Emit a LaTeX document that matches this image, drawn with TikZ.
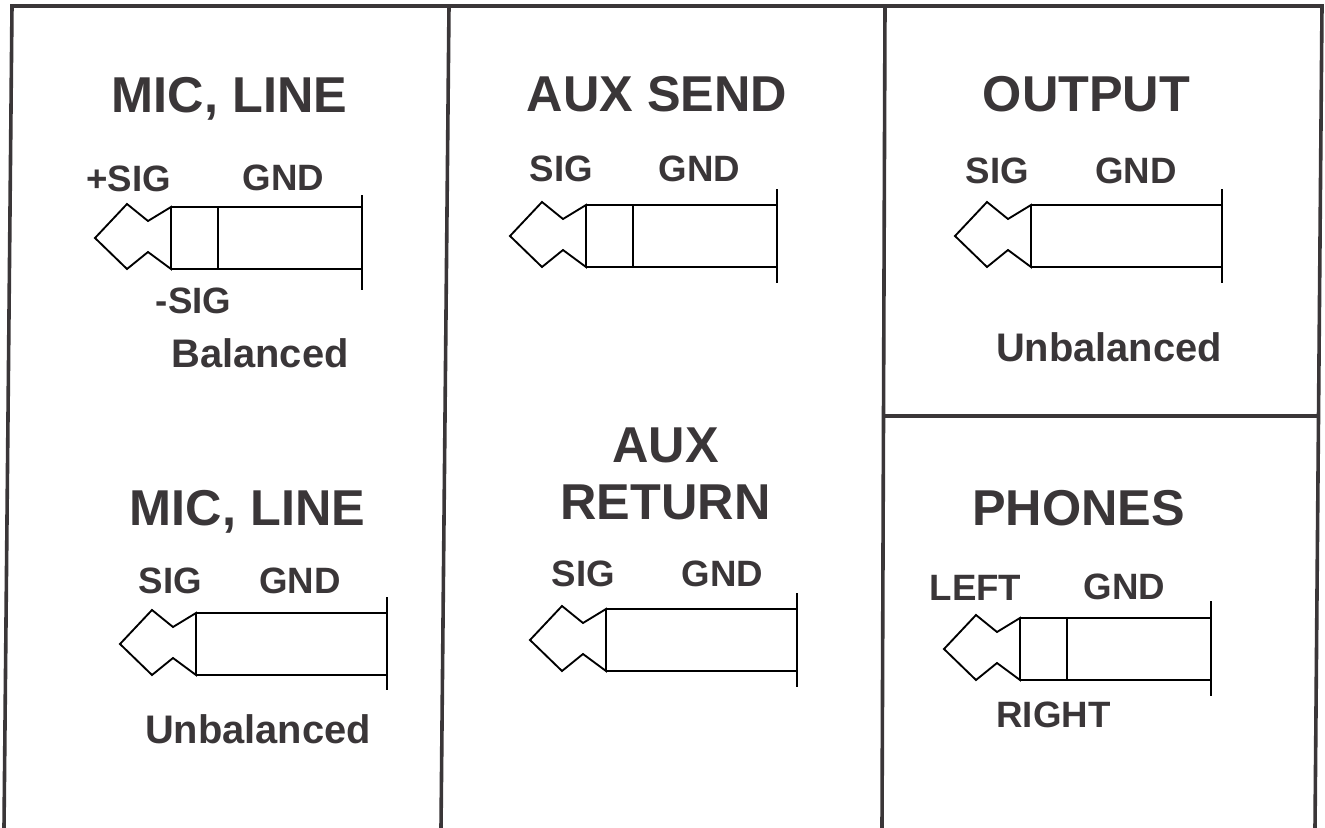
\documentclass[tikz,border=0pt]{standalone}
\usepackage{fontspec}
\setmainfont{Liberation Sans}
\definecolor{ink}{HTML}{3A3638}
\tikzset{
  x=0.75pt, y=-0.75pt,
  frameline/.style={draw=ink, line width=2.7pt},
  plugline/.style={draw=black, line width=1.4pt, line join=miter},
  title/.style={anchor=base, inner sep=0pt, text=ink, font=\bfseries\fontsize{37.8}{43}\selectfont},
  pinlabel/.style={anchor=base, inner sep=0pt, text=ink, font=\bfseries\fontsize{27.5}{32}\selectfont},
  kind/.style={anchor=base, inner sep=0pt, text=ink, font=\bfseries\fontsize{29.9}{34}\selectfont},
}
% #1,#2 tip of the plug; #3,#4 top and bottom of the end bar
\newcommand{\jackplug}[4]{%
  \begin{scope}[shift={(#1,#2)}]
    \draw[plugline] (1,0) -- (33,-34) -- (54,-17) -- (77,-31) -- (77,31) -- (54,14) -- (33,31) -- cycle;
    \draw[plugline] (77,-31) -- (268,-31);
    \draw[plugline] (77,31) -- (268,31);
    \draw[plugline] (268,#3) -- (268,#4);
  \end{scope}}
\newcommand{\plugdivider}[2]{\draw[plugline] (#1+124,#2-31) -- (#1+124,#2+31);}
\begin{document}
\begin{tikzpicture}
\useasboundingbox (0,0) rectangle (1325,828);
\coordinate (tl) at (12,6);
\coordinate (tm1) at (449,6);
\coordinate (tm2) at (885,6);
\coordinate (tr) at (1322,6);
\coordinate (bl) at (4,828);
\coordinate (bm1) at (441,828);
\coordinate (bm2) at (882,828);
\coordinate (br) at (1315,828);
\coordinate (ml) at (884,416);
\coordinate (mr) at (1319,416);
\draw[frameline] (bl) -- (tl) -- (tr) -- (br);
\draw[frameline] (tm1) -- (bm1);
\draw[frameline] (tm2) -- (bm2);
\draw[frameline] (ml) -- (mr);

\jackplug{94}{238}{-43}{52}\plugdivider{94}{238}
\jackplug{119}{644}{-47}{46}
\jackplug{509}{236}{-47}{47}
\plugdivider{509}{236}
\jackplug{529}{640}{-47}{47}
\jackplug{954}{236}{-47}{47}
\jackplug{943}{649}{-48}{47}\plugdivider{943}{649}

\node[title] (t1) at (229.5,112) {MIC, LINE};
\node[pinlabel] (a1) at (128.5,191) {+SIG};
\node[pinlabel] (a2) at (283.5,190) {GND};
\node[pinlabel] (a3) at (193.5,313) {-SIG};
\node[kind] (a4) at (260,367) {Balanced};

\node[title] (t2) at (247.5,525) {MIC, LINE};
\node[pinlabel] (b1) at (170.5,593) {SIG};
\node[pinlabel] (b2) at (300,593) {GND};
\node[kind] (b3) at (258,743) {Unbalanced};

\node[title] (t3) at (657,111) {AUX SEND};
\node[pinlabel] (c1) at (561.5,181) {SIG};
\node[pinlabel] (c2) at (699.5,181) {GND};

\node[anchor=center, inner sep=0pt, text=ink, align=center, font=\bfseries\fontsize{37.8}{42.75}\selectfont] (t4) at (665.5,474) {AUX\\RETURN};
\node[pinlabel] (d1) at (583.5,586.5) {SIG};
\node[pinlabel] (d2) at (722.5,586.5) {GND};

\node[title] (t5) at (1086.5,111) {OUTPUT};
\node[pinlabel] (e1) at (997.5,183) {SIG};
\node[pinlabel] (e2) at (1136,183) {GND};
\node[kind] (e3) at (1109,361) {Unbalanced};

\node[title] (t6) at (1078.5,525) {PHONES};
\node[pinlabel] (f1) at (975.5,600) {LEFT};
\node[pinlabel] (f2) at (1124.5,599) {GND};
\node[pinlabel] (f3) at (1053.5,727) {RIGHT};
\end{tikzpicture}
\end{document}
